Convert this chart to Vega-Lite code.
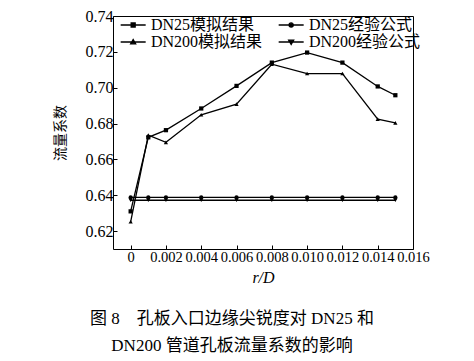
{
  "$schema": "https://vega.github.io/schema/vega-lite/v6.json",
  "width": 300,
  "height": 233,
  "autosize": "none",
  "padding": {"left": 113, "top": 16, "right": 61, "bottom": 112},
  "background": "white",
  "config": {
    "view": {"stroke": "black", "strokeWidth": 1},
    "font": "Liberation Serif, Noto Sans CJK SC"
  },
  "title": {
    "text": ["图 8　孔板入口边缘尖锐度对 DN25 和", "DN200 管道孔板流量系数的影响"],
    "orient": "bottom",
    "anchor": "middle",
    "dx": -31,
    "offset": 25,
    "fontSize": 17,
    "fontWeight": "normal",
    "lineHeight": 27,
    "font": "Liberation Serif, Noto Sans CJK SC",
    "color": "black"
  },
  "data": {
    "values": [
      {"x": 0, "y": 0.631, "s": "DN25模拟结果"},
      {"x": 0.001, "y": 0.6723, "s": "DN25模拟结果"},
      {"x": 0.002, "y": 0.6763, "s": "DN25模拟结果"},
      {"x": 0.004, "y": 0.6884, "s": "DN25模拟结果"},
      {"x": 0.006, "y": 0.701, "s": "DN25模拟结果"},
      {"x": 0.008, "y": 0.714, "s": "DN25模拟结果"},
      {"x": 0.010, "y": 0.7196, "s": "DN25模拟结果"},
      {"x": 0.012, "y": 0.714, "s": "DN25模拟结果"},
      {"x": 0.014, "y": 0.7007, "s": "DN25模拟结果"},
      {"x": 0.015, "y": 0.6958, "s": "DN25模拟结果"},
      {"x": 0, "y": 0.6388, "s": "DN25经验公式"},
      {"x": 0.001, "y": 0.6388, "s": "DN25经验公式"},
      {"x": 0.002, "y": 0.6388, "s": "DN25经验公式"},
      {"x": 0.004, "y": 0.6388, "s": "DN25经验公式"},
      {"x": 0.006, "y": 0.6388, "s": "DN25经验公式"},
      {"x": 0.008, "y": 0.6388, "s": "DN25经验公式"},
      {"x": 0.010, "y": 0.6388, "s": "DN25经验公式"},
      {"x": 0.012, "y": 0.6388, "s": "DN25经验公式"},
      {"x": 0.014, "y": 0.6388, "s": "DN25经验公式"},
      {"x": 0.015, "y": 0.6388, "s": "DN25经验公式"},
      {"x": 0, "y": 0.6252, "s": "DN200模拟结果"},
      {"x": 0.001, "y": 0.6735, "s": "DN200模拟结果"},
      {"x": 0.002, "y": 0.6695, "s": "DN200模拟结果"},
      {"x": 0.004, "y": 0.6849, "s": "DN200模拟结果"},
      {"x": 0.006, "y": 0.6908, "s": "DN200模拟结果"},
      {"x": 0.008, "y": 0.7131, "s": "DN200模拟结果"},
      {"x": 0.010, "y": 0.7079, "s": "DN200模拟结果"},
      {"x": 0.012, "y": 0.7079, "s": "DN200模拟结果"},
      {"x": 0.014, "y": 0.6825, "s": "DN200模拟结果"},
      {"x": 0.015, "y": 0.6804, "s": "DN200模拟结果"},
      {"x": 0, "y": 0.6372, "s": "DN200经验公式"},
      {"x": 0.001, "y": 0.6372, "s": "DN200经验公式"},
      {"x": 0.002, "y": 0.6372, "s": "DN200经验公式"},
      {"x": 0.004, "y": 0.6372, "s": "DN200经验公式"},
      {"x": 0.006, "y": 0.6372, "s": "DN200经验公式"},
      {"x": 0.008, "y": 0.6372, "s": "DN200经验公式"},
      {"x": 0.010, "y": 0.6372, "s": "DN200经验公式"},
      {"x": 0.012, "y": 0.6372, "s": "DN200经验公式"},
      {"x": 0.014, "y": 0.6372, "s": "DN200经验公式"},
      {"x": 0.015, "y": 0.6372, "s": "DN200经验公式"}
    ]
  },
  "encoding": {
    "x": {
      "field": "x",
      "type": "quantitative",
      "scale": {"domain": [-0.001, 0.016], "nice": false, "zero": false},
      "axis": {
        "values": [0, 0.002, 0.004, 0.006, 0.008, 0.010, 0.012, 0.014, 0.016],
        "labelExpr": "datum.value == 0 ? '0' : format(datum.value, '.3f')",
        "title": "r/D",
        "titleFont": "Liberation Serif",
        "titleFontStyle": "italic",
        "titleFontWeight": "normal",
        "titleFontSize": 16,
        "titleColor": "black",
        "titlePadding": 6,
        "labelFontSize": 14.5,
        "labelColor": "black",
        "labelPadding": 5,
        "labelOverlap": false,
        "labelFlush": false,
        "labelBound": false,
        "tickSize": -4,
        "tickColor": "black",
        "domain": false,
        "grid": false
      }
    },
    "y": {
      "field": "y",
      "type": "quantitative",
      "scale": {"domain": [0.61, 0.74], "nice": false, "zero": false},
      "axis": {
        "values": [0.62, 0.64, 0.66, 0.68, 0.70, 0.72, 0.74],
        "format": ".2f",
        "title": "流量系数",
        "titleFont": "Noto Sans CJK SC",
        "titleFontWeight": "normal",
        "titleFontSize": 14,
        "titleColor": "black",
        "titlePadding": 18,
        "labelFontSize": 16,
        "labelColor": "black",
        "labelPadding": 4,
        "labelOverlap": false,
        "labelFlush": false,
        "labelBound": false,
        "tickSize": -4,
        "tickColor": "black",
        "domain": false,
        "grid": false
      }
    },
    "color": {
      "field": "s",
      "type": "nominal",
      "sort": ["DN25模拟结果", "DN25经验公式", "DN200模拟结果", "DN200经验公式"],
      "scale": {"range": ["black", "black", "black", "black"]},
      "legend": null
    }
  },
  "layer": [
    {
      "mark": {"type": "line", "strokeWidth": 1.3}
    },
    {
      "mark": {"type": "point", "filled": true, "opacity": 1, "size": 18},
      "encoding": {
        "shape": {
          "field": "s",
          "type": "nominal",
          "sort": ["DN25模拟结果", "DN25经验公式", "DN200模拟结果", "DN200经验公式"],
          "scale": {"range": ["square", "circle", "triangle-up", "triangle-down"]},
          "legend": null
        }
      }
    },
    {
      "transform": [{"filter": "datum.x < -1"}],
      "mark": {"type": "point", "filled": true, "opacity": 1, "size": 278, "strokeWidth": 1.3, "stroke": "black"},
      "encoding": {
        "shape": {
          "field": "s",
          "type": "nominal",
          "sort": ["DN25模拟结果", "DN25经验公式", "DN200模拟结果", "DN200经验公式"],
          "scale": {
            "domain": ["DN25模拟结果", "DN25经验公式", "DN200模拟结果", "DN200经验公式"],
            "range": [
              "M-1,0H2M0.26,-0.24H0.74V0.24H0.26Z",
              "M-1,0H2M0.25,0A0.25,0.25,0,1,1,0.75,0A0.25,0.25,0,1,1,0.25,0Z",
              "M-1,0H2M0.5,-0.3L0.8,0.22H0.2Z",
              "M-1,0H2M0.5,0.3L0.8,-0.22H0.2Z"
            ]
          },
          "legend": {
            "title": null,
            "orient": "none",
            "legendX": 7,
            "legendY": 0,
            "columns": 2,
            "direction": "horizontal",
            "padding": 0,
            "rowPadding": 0,
            "columnPadding": 13,
            "labelOffset": 13,
            "labelFontSize": 16,
            "labelColor": "black",
            "labelFont": "Liberation Serif, Noto Sans CJK SC",
            "labelLimit": 300,
            "symbolSize": 278,
            "symbolStrokeColor": "black",
            "symbolFillColor": "black",
            "symbolStrokeWidth": 1.3,
            "symbolOpacity": 1
          }
        }
      }
    }
  ],
  "resolve": {"scale": {"shape": "independent"}}
}
